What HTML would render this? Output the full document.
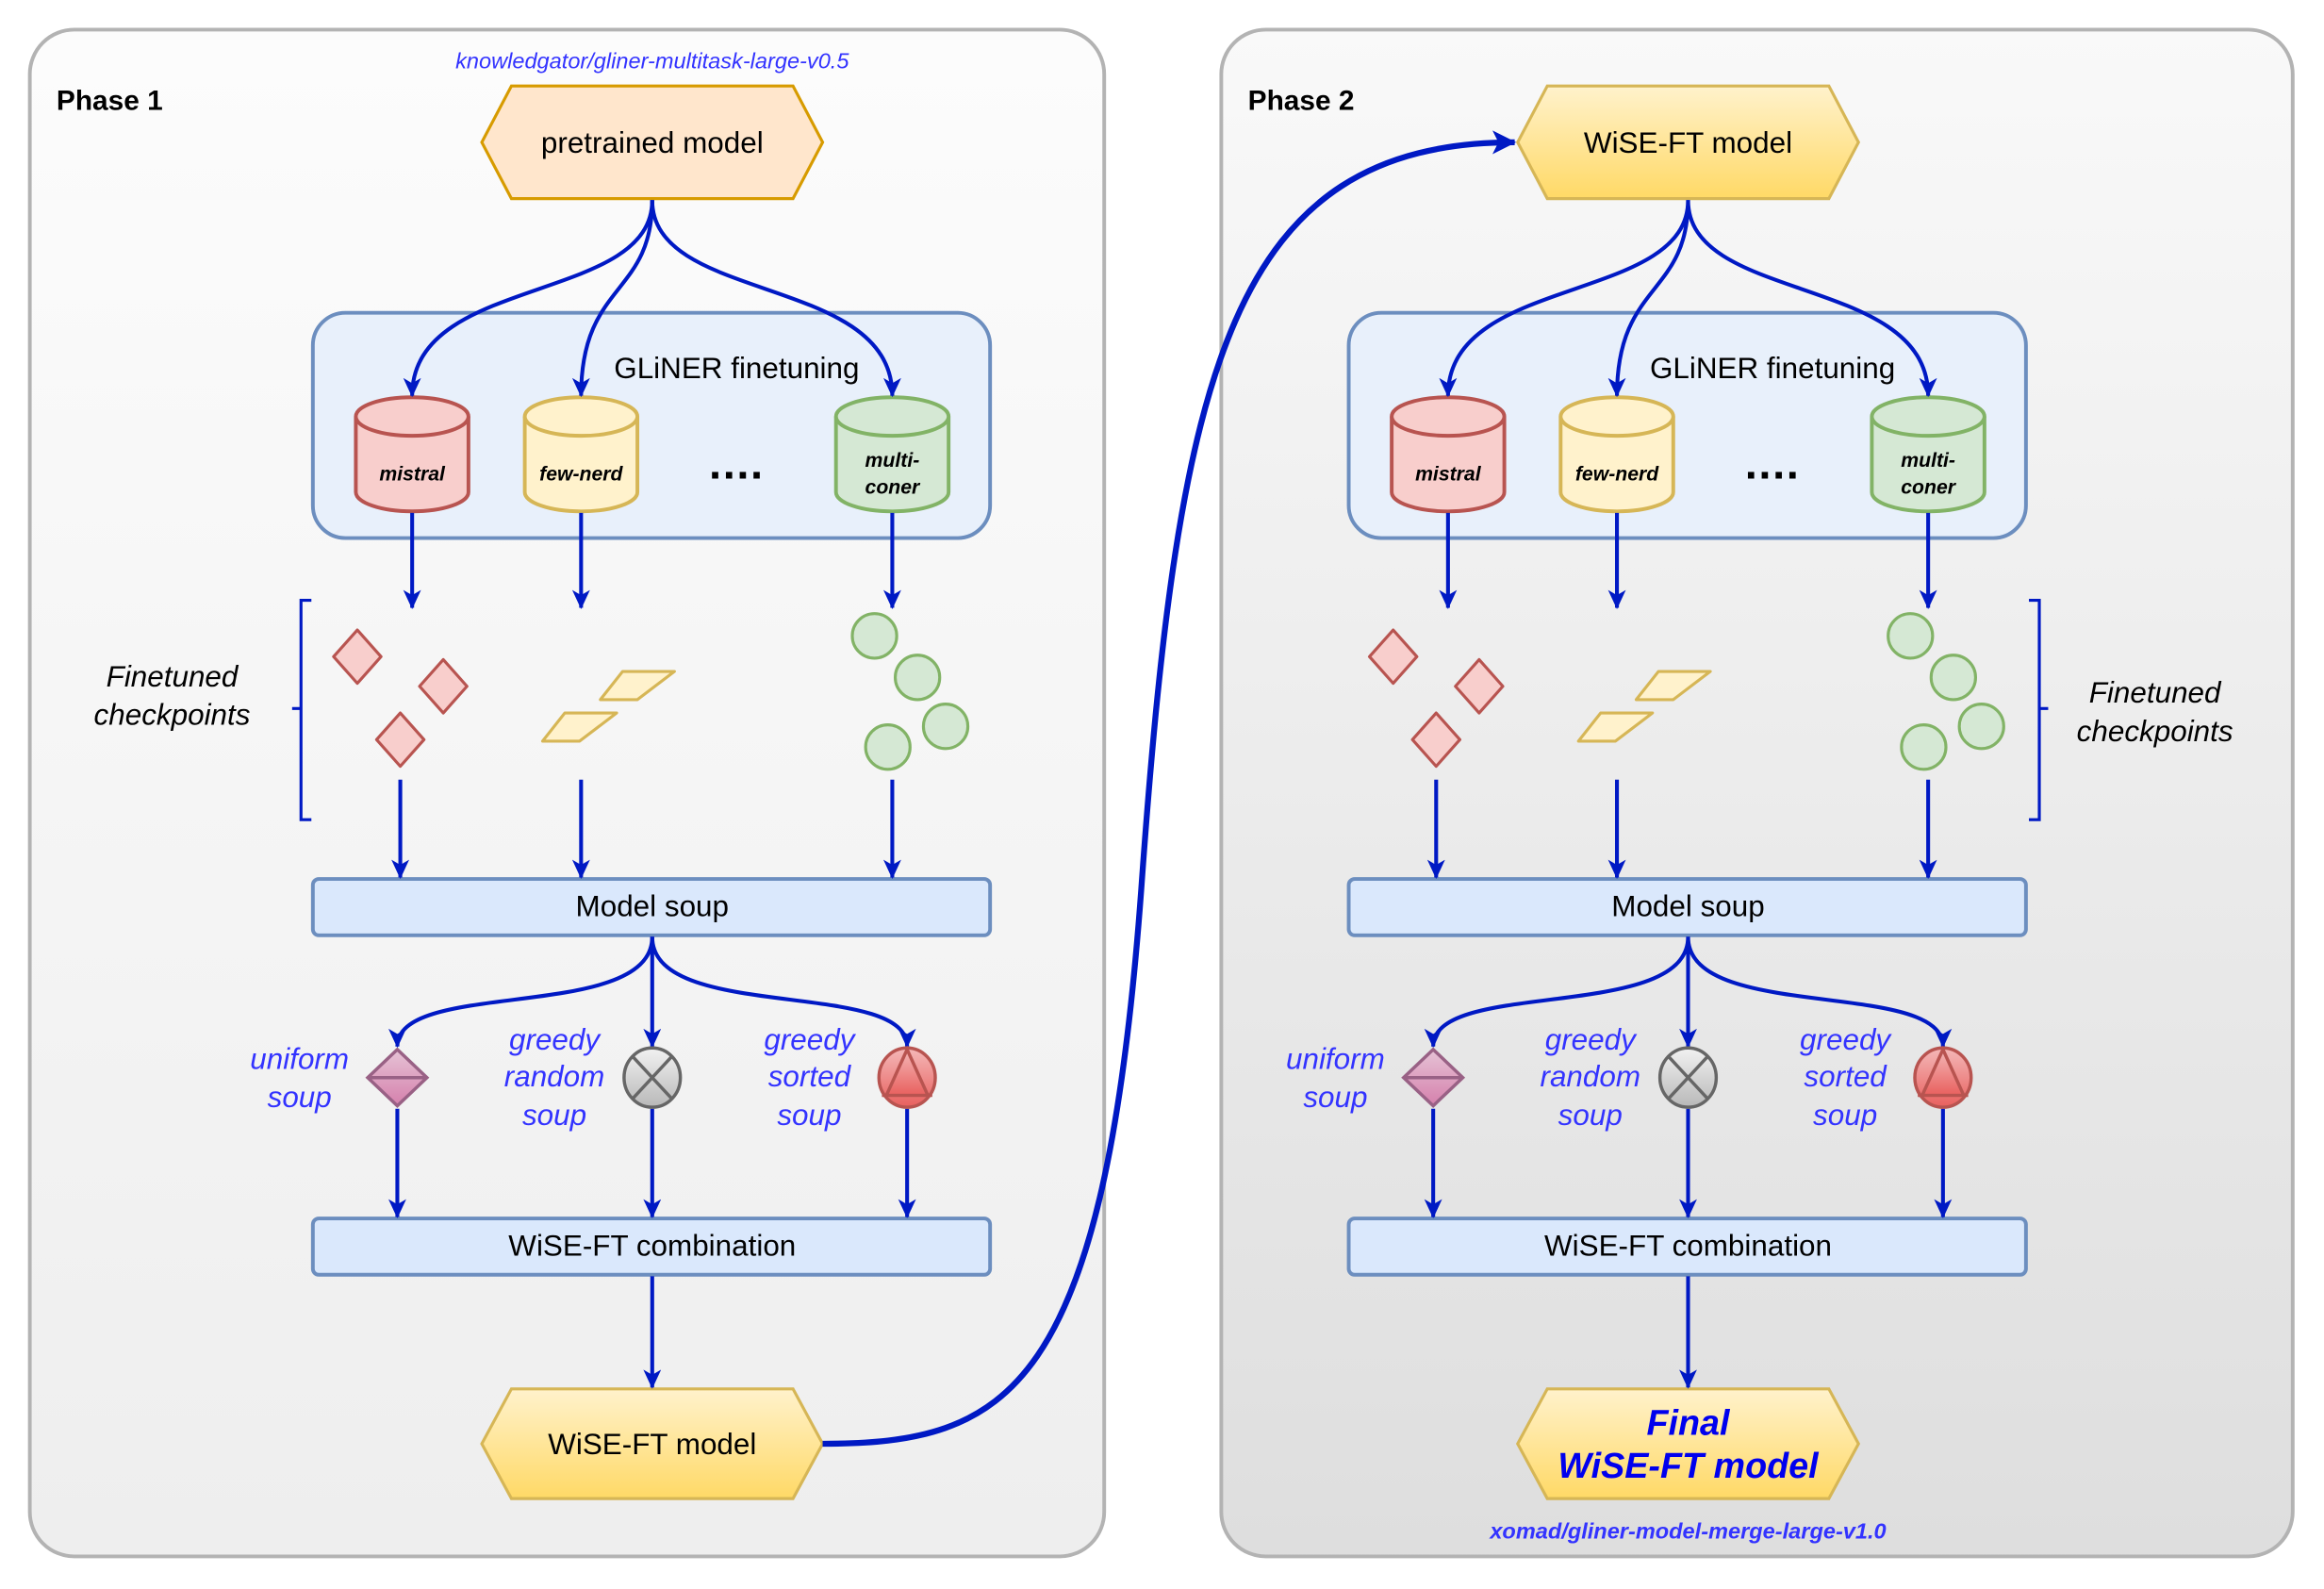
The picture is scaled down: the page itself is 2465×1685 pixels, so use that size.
<!DOCTYPE html>
<html><head><meta charset="utf-8"><style>html,body{margin:0;padding:0;background:#fff}svg{display:block}</style></head><body>
<svg width="2465" height="1685" viewBox="0 0 1568 1072" xmlns="http://www.w3.org/2000/svg" font-family="Liberation Sans, Arial, sans-serif">
<defs>
<linearGradient id="p1" x1="0" y1="0" x2="0" y2="1"><stop offset="0" stop-color="#fcfcfc"/><stop offset="1" stop-color="#eeeeee"/></linearGradient>
<linearGradient id="p2" x1="0" y1="0" x2="0" y2="1"><stop offset="0" stop-color="#f9f9f9"/><stop offset="1" stop-color="#dedede"/></linearGradient>
<linearGradient id="yel" x1="0" y1="0" x2="0" y2="1"><stop offset="0" stop-color="#fff2cc"/><stop offset="1" stop-color="#ffd966"/></linearGradient>
<linearGradient id="pink" x1="0" y1="0" x2="0" y2="1"><stop offset="0" stop-color="#e6c3d6"/><stop offset="1" stop-color="#d580ac"/></linearGradient>
<linearGradient id="gry" x1="0" y1="0" x2="0" y2="1"><stop offset="0" stop-color="#f2f2f2"/><stop offset="1" stop-color="#b8b8b8"/></linearGradient>
<linearGradient id="red" x1="0" y1="0" x2="0" y2="1"><stop offset="0" stop-color="#f4b8b8"/><stop offset="1" stop-color="#e8605e"/></linearGradient>
<marker id="ah" markerWidth="14" markerHeight="14" refX="12" refY="6" orient="auto" markerUnits="userSpaceOnUse"><path d="M0,0 L13,6 L0,12 L3.5,6 Z" fill="#0019c4"/></marker>
<marker id="ahb" markerWidth="18" markerHeight="18" refX="15" refY="8" orient="auto" markerUnits="userSpaceOnUse"><path d="M0,0 L16,8 L0,16 L4,8 Z" fill="#0019c4"/></marker>
</defs>

<rect x="20" y="20" width="725" height="1030" rx="30" fill="url(#p1)" stroke="#b3b3b3" stroke-width="2.5"/>
<rect x="824" y="20" width="723" height="1030" rx="30" fill="url(#p2)" stroke="#b3b3b3" stroke-width="2.5"/>

<!-- hexagons -->
<polygon points="345,58 535,58 555,96 535,134 345,134 325,96" fill="#ffe6cc" stroke="#d79b00" stroke-width="2"/>
<polygon points="345,937 535,937 555,974 535,1011 345,1011 325,974" fill="url(#yel)" stroke="#d6b656" stroke-width="2"/>
<polygon points="1044,58 1234,58 1254,96 1234,134 1044,134 1024,96" fill="url(#yel)" stroke="#d6b656" stroke-width="2"/>
<polygon points="1044,937 1234,937 1254,974 1234,1011 1044,1011 1024,974" fill="url(#yel)" stroke="#d6b656" stroke-width="2"/>

<!-- finetune boxes -->
<rect x="211" y="211" width="457" height="152" rx="22" fill="#e8f0fb" stroke="#6c8ebf" stroke-width="2.5"/>
<rect x="910" y="211" width="457" height="152" rx="22" fill="#e8f0fb" stroke="#6c8ebf" stroke-width="2.5"/>
<g fill="#dae8fc" stroke="#6c8ebf" stroke-width="2.5">
<rect x="211" y="593" width="457" height="38" rx="4"/>
<rect x="211" y="822" width="457" height="38" rx="4"/>
<rect x="910" y="593" width="457" height="38" rx="4"/>
<rect x="910" y="822" width="457" height="38" rx="4"/>
</g>

<!-- cylinders -->
<g stroke-width="2.5">
<g fill="#f8cecc" stroke="#b85450"><path d="M240,281 V332 A38,13 0 0 0 316,332 V281"/><ellipse cx="278" cy="281" rx="38" ry="13"/></g>
<g fill="#fff2cc" stroke="#d6b656"><path d="M354,281 V332 A38,13 0 0 0 430,332 V281"/><ellipse cx="392" cy="281" rx="38" ry="13"/></g>
<g fill="#d5e8d4" stroke="#82b366"><path d="M564,281 V332 A38,13 0 0 0 640,332 V281"/><ellipse cx="602" cy="281" rx="38" ry="13"/></g>
<g fill="#f8cecc" stroke="#b85450"><path d="M939,281 V332 A38,13 0 0 0 1015,332 V281"/><ellipse cx="977" cy="281" rx="38" ry="13"/></g>
<g fill="#fff2cc" stroke="#d6b656"><path d="M1053,281 V332 A38,13 0 0 0 1129,332 V281"/><ellipse cx="1091" cy="281" rx="38" ry="13"/></g>
<g fill="#d5e8d4" stroke="#82b366"><path d="M1263,281 V332 A38,13 0 0 0 1339,332 V281"/><ellipse cx="1301" cy="281" rx="38" ry="13"/></g>
</g>

<g fill="none" stroke="#0019c4" stroke-width="2.6">
<!-- phase 1 -->
<path d="M440,135 C440,205 278,185 278,267" marker-end="url(#ah)"/>
<path d="M440,135 C440,200 392,190 392,267" marker-end="url(#ah)"/>
<path d="M440,135 C440,205 602,185 602,267" marker-end="url(#ah)"/>
<path d="M278,346 V410" marker-end="url(#ah)"/>
<path d="M392,346 V410" marker-end="url(#ah)"/>
<path d="M602,346 V410" marker-end="url(#ah)"/>
<path d="M270,526 V592" marker-end="url(#ah)"/>
<path d="M392,526 V592" marker-end="url(#ah)"/>
<path d="M602,526 V592" marker-end="url(#ah)"/>
<path d="M440,632 C440,690 268,660 268,706" marker-end="url(#ah)"/>
<path d="M440,632 V706" marker-end="url(#ah)"/>
<path d="M440,632 C440,690 612,660 612,706" marker-end="url(#ah)"/>
<path d="M268,748 V821" marker-end="url(#ah)"/>
<path d="M440,748 V821" marker-end="url(#ah)"/>
<path d="M612,748 V821" marker-end="url(#ah)"/>
<path d="M440,861 V936" marker-end="url(#ah)"/>
<path d="M210,405 H203 V478 H197 M203,478 V553 H210" stroke-width="2"/>
<!-- phase 2 -->
<path d="M1139,135 C1139,205 977,185 977,267" marker-end="url(#ah)"/>
<path d="M1139,135 C1139,200 1091,190 1091,267" marker-end="url(#ah)"/>
<path d="M1139,135 C1139,205 1301,185 1301,267" marker-end="url(#ah)"/>
<path d="M977,346 V410" marker-end="url(#ah)"/>
<path d="M1091,346 V410" marker-end="url(#ah)"/>
<path d="M1301,346 V410" marker-end="url(#ah)"/>
<path d="M969,526 V592" marker-end="url(#ah)"/>
<path d="M1091,526 V592" marker-end="url(#ah)"/>
<path d="M1301,526 V592" marker-end="url(#ah)"/>
<path d="M1139,632 C1139,690 967,660 967,706" marker-end="url(#ah)"/>
<path d="M1139,632 V706" marker-end="url(#ah)"/>
<path d="M1139,632 C1139,690 1311,660 1311,706" marker-end="url(#ah)"/>
<path d="M967,748 V821" marker-end="url(#ah)"/>
<path d="M1139,748 V821" marker-end="url(#ah)"/>
<path d="M1311,748 V821" marker-end="url(#ah)"/>
<path d="M1139,861 V936" marker-end="url(#ah)"/>
<path d="M1369,405 H1376 V478 H1382 M1376,478 V553 H1369" stroke-width="2"/>
<!-- big -->
<path d="M555,974 C680,974 745,940 770,600 C795,250 830,96 1022,96" stroke-width="4" marker-end="url(#ahb)"/>
</g>

<!-- checkpoints -->
<g stroke-width="2" stroke-linejoin="round">
<g fill="#f8cecc" stroke="#b85450">
<path d="M241,425 L257,443 L241,461 L225,443 Z"/><path d="M299,445 L315,463 L299,481 L283,463 Z"/><path d="M270,481 L286,499 L270,517 L254,499 Z"/>
<path d="M940,425 L956,443 L940,461 L924,443 Z"/><path d="M998,445 L1014,463 L998,481 L982,463 Z"/><path d="M969,481 L985,499 L969,517 L953,499 Z"/>
</g>
<g fill="#fff2cc" stroke="#d6b656">
<path d="M420,453 L455,453 L430,472 L405,472 Z"/><path d="M381,481 L416,481 L391,500 L366,500 Z"/>
<path d="M1119,453 L1154,453 L1129,472 L1104,472 Z"/><path d="M1080,481 L1115,481 L1090,500 L1065,500 Z"/>
</g>
<g fill="#d5e8d4" stroke="#82b366">
<ellipse cx="590" cy="429" rx="15" ry="15"/><ellipse cx="619" cy="457" rx="15" ry="15"/><ellipse cx="638" cy="490" rx="15" ry="15"/><ellipse cx="599" cy="504" rx="15" ry="15"/>
<ellipse cx="1289" cy="429" rx="15" ry="15"/><ellipse cx="1318" cy="457" rx="15" ry="15"/><ellipse cx="1337" cy="490" rx="15" ry="15"/><ellipse cx="1298" cy="504" rx="15" ry="15"/>
</g>
</g>

<!-- soup markers -->
<g stroke-width="2.2">
<g fill="url(#pink)" stroke="#996185"><path d="M268,708 L288,727 L268,746 L248,727 Z M248,727 H288"/><path d="M967,708 L987,727 L967,746 L947,727 Z M947,727 H987"/></g>
<g fill="url(#gry)" stroke="#666"><ellipse cx="440" cy="727" rx="19" ry="20"/><path d="M427,713 L453,741 M453,713 L427,741"/><ellipse cx="1139" cy="727" rx="19" ry="20"/><path d="M1126,713 L1152,741 M1152,713 L1126,741"/></g>
<g fill="url(#red)" stroke="#b85450"><ellipse cx="612" cy="727" rx="19" ry="20"/><path d="M612,708 L626,739 L598,739 Z M595,739 H629"/><ellipse cx="1311" cy="727" rx="19" ry="20"/><path d="M1311,708 L1325,739 L1297,739 Z M1294,739 H1328"/></g>
</g>

<!-- text -->
<g fill="#000" text-anchor="middle" font-size="20">
<text x="440" y="103">pretrained model</text>
<text x="1139" y="103">WiSE-FT model</text>
<text x="440" y="981">WiSE-FT model</text>
<text x="497" y="255">GLiNER finetuning</text>
<text x="1196" y="255">GLiNER finetuning</text>
<text x="440" y="618">Model soup</text>
<text x="1139" y="618">Model soup</text>
<text x="440" y="847">WiSE-FT combination</text>
<text x="1139" y="847">WiSE-FT combination</text>
<text x="497" y="323" font-weight="bold" font-size="30" letter-spacing="1">....</text>
<text x="1196" y="323" font-weight="bold" font-size="30" letter-spacing="1">....</text>
<g font-style="italic" font-size="20">
<text x="116" y="463">Finetuned</text><text x="116" y="489">checkpoints</text>
<text x="1454" y="474">Finetuned</text><text x="1454" y="500">checkpoints</text>
</g>
<g font-style="italic" font-weight="bold" font-size="13.5">
<text x="278" y="324">mistral</text><text x="392" y="324">few-nerd</text><text x="602" y="315">multi-</text><text x="602" y="333">coner</text>
<text x="977" y="324">mistral</text><text x="1091" y="324">few-nerd</text><text x="1301" y="315">multi-</text><text x="1301" y="333">coner</text>
</g>
</g>
<g font-weight="bold" font-size="19" fill="#000"><text x="38" y="74">Phase 1</text><text x="842" y="74">Phase 2</text></g>
<g fill="#3333ff" font-style="italic" text-anchor="middle" font-size="20">
<text x="202" y="721">uniform</text><text x="202" y="747">soup</text>
<text x="374" y="708">greedy</text><text x="374" y="733">random</text><text x="374" y="759">soup</text>
<text x="546" y="708">greedy</text><text x="546" y="733">sorted</text><text x="546" y="759">soup</text>
<text x="901" y="721">uniform</text><text x="901" y="747">soup</text>
<text x="1073" y="708">greedy</text><text x="1073" y="733">random</text><text x="1073" y="759">soup</text>
<text x="1245" y="708">greedy</text><text x="1245" y="733">sorted</text><text x="1245" y="759">soup</text>
<text x="440" y="46" font-size="15">knowledgator/gliner-multitask-large-v0.5</text>
<text x="1139" y="1038" font-size="15" font-weight="bold">xomad/gliner-model-merge-large-v1.0</text>
</g>
<g fill="#0000ee" font-style="italic" font-weight="bold" text-anchor="middle" font-size="24">
<text x="1139" y="968">Final</text><text x="1139" y="997">WiSE-FT model</text>
</g>
</svg>
</body></html>
